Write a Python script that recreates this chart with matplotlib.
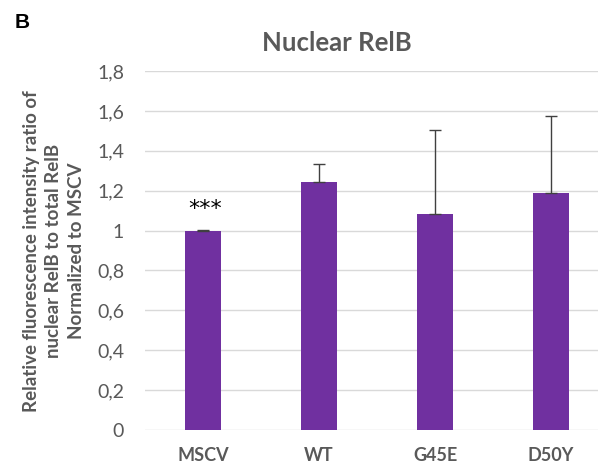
import numpy as np
import matplotlib.pyplot as plt

# datos
categorias = ["MSCV", "WT", "G45E", "D50Y"]
valores = [1.0, 1.244, 1.082, 1.19]
error_sup = [0.005, 0.09, 0.42, 0.385]
ticks_y = [0, 0.2, 0.4, 0.6, 0.8, 1.0, 1.2, 1.4, 1.6, 1.8]
etiquetas_y = ["0", "0,2", "0,4", "0,6", "0,8", "1", "1,2", "1,4", "1,6", "1,8"]

gris = "#595959"
morado = "#7030A0"
fuente = ["Lato", "DejaVu Sans"]

fig = plt.figure(figsize=(5.98, 4.66), dpi=100)
ax = fig.add_axes([145 / 598, 36 / 466, 1 - 145 / 598, (430 - 71) / 466])

x = np.arange(len(categorias))
ax.bar(x, valores, width=0.31, color=morado, zorder=3)
ax.errorbar(x, valores, yerr=[np.zeros(len(valores)), error_sup], fmt="none",
            ecolor="#404040", elinewidth=1, capsize=4, capthick=1, zorder=4)

ax.set_xlim(-0.5, 3.405)
ax.set_ylim(0, 1.8)
ax.set_yticks(ticks_y)
ax.set_yticklabels(etiquetas_y, fontsize=14, color=gris, family=fuente)
ax.set_xticks(x)
ax.set_xticklabels(categorias, fontsize=13, color=gris, family=fuente, fontweight="bold")
ax.tick_params(axis="both", length=0)
ax.tick_params(axis="y", pad=15)
ax.tick_params(axis="x", pad=12)
ax.grid(axis="y", color="#d9d9d9", linewidth=1, zorder=0)
for s in ax.spines.values():
    s.set_visible(False)

# asteriscos sobre MSCV
ax.text(0.02, valores[0] + 0.06, "***", ha="center", va="bottom", fontsize=16,
        color="black", family="DejaVu Sans")

fig.text(337 / 598, 1 - 43 / 466, "Nuclear RelB", ha="center", va="center",
         fontsize=18.5, color=gris, family=fuente, fontweight="bold")
fig.text(54 / 598, 1 - 251 / 466,
         "Relative fluorescence intensity ratio of\nnuclear RelB to total RelB\nNormalized to MSCV",
         ha="center", va="center", rotation=90, fontsize=13.5, color=gris,
         family=fuente, fontweight="bold", linespacing=1.4)
fig.text(22 / 598, 1 - 22 / 466, "B", ha="center", va="center", fontsize=15,
         color="black", family=["Liberation Sans", "DejaVu Sans"], fontweight="bold")

fig.savefig("out.png", dpi=100)
